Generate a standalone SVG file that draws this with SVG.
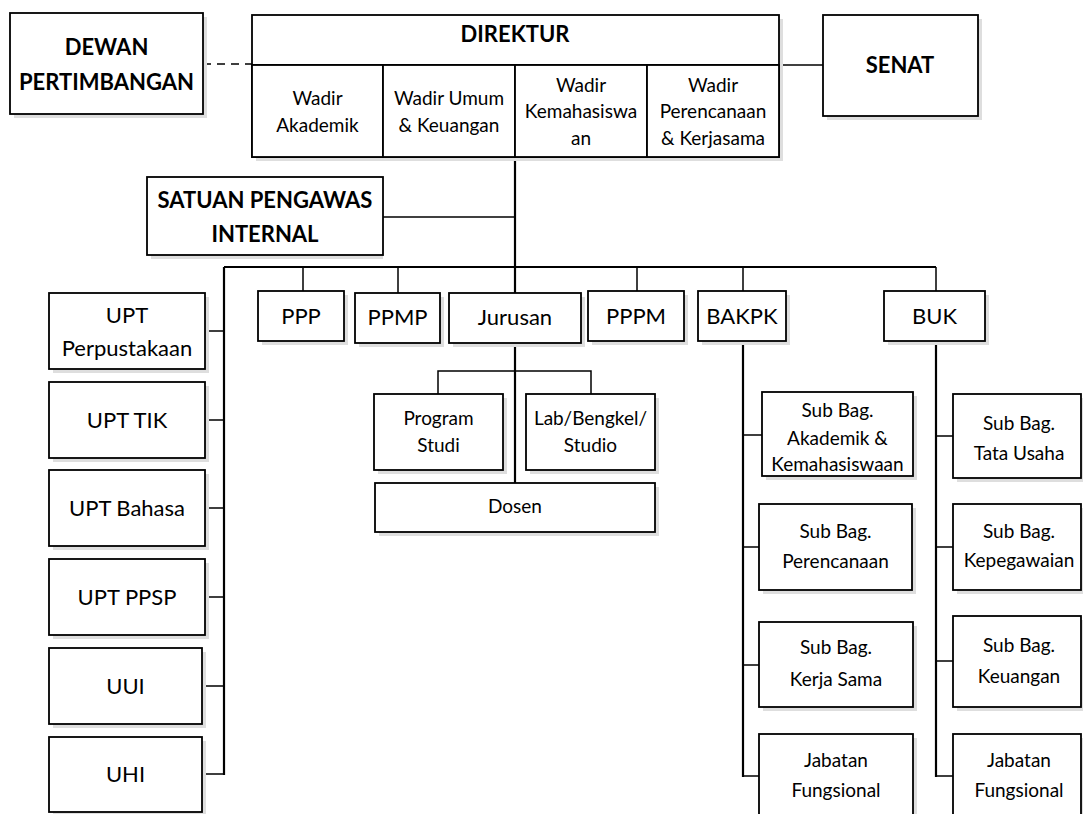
<svg xmlns="http://www.w3.org/2000/svg" width="1083" height="814" viewBox="0 0 1083 814">
<defs>
<style>
.box{fill:#fff;stroke:#000;stroke-width:1.8}
.sh{fill:#dedede;stroke:none}
.t{font-family:Lato,"Liberation Sans",sans-serif;font-size:19px;fill:#000;text-anchor:middle}
.tl{font-family:Lato,"Liberation Sans",sans-serif;font-size:22px;fill:#000;text-anchor:middle}
.tb{font-family:Lato,"Liberation Sans",sans-serif;font-size:22px;font-weight:bold;fill:#000;text-anchor:middle}
.main{fill:none;stroke:#000;stroke-width:2.2}
.thin{fill:none;stroke:#000;stroke-width:1.5}
.dash{fill:none;stroke:#000;stroke-width:1.5;stroke-dasharray:8 6}
</style>
</defs>
<rect width="1083" height="814" fill="#fff"/>

<g id="connectors">
<path class="dash" d="M203,64 H252"/>
<path class="thin" d="M779,65 H823"/>
<path class="thin" d="M383,217 H515"/>
<path class="main" d="M515,157 V293"/>
<path class="main" d="M224,267 H936"/>
<path class="main" d="M224,267 V775"/>
<path class="thin" d="M205,331 H224 M205,420 H224 M205,508 H224 M205,597 H224 M202,686 H224 M202,774 H224"/>
<path class="thin" d="M303,267 V291 M398,267 V293 M637,267 V291 M743,267 V291 M936,267 V291"/>
<path class="main" d="M743,341 V777"/>
<path class="thin" d="M743,435 H762 M743,547 H759 M743,665 H759 M743,776 H759"/>
<path class="main" d="M936,341 V777"/>
<path class="thin" d="M936,436 H953 M936,547 H953 M936,661 H953 M936,776 H953"/>
<path class="main" d="M515,343 V483"/>
<path class="thin" d="M438,394 V371 H591 V394"/>
</g>

<g id="dewan">
<rect class="sh" x="14" y="17" width="193" height="101"/>
<rect class="box" x="10" y="13" width="193" height="101"/>
<text class="tb" x="106.5" y="55">DEWAN</text>
<text class="tb" x="106.5" y="90">PERTIMBANGAN</text>
</g>

<g id="direktur">
<rect class="sh" x="256" y="19" width="527" height="142"/>
<rect class="box" x="252" y="15" width="527" height="142"/>
<line x1="252" y1="65" x2="779" y2="65" stroke="#000" stroke-width="1.8"/>
<text class="tb" x="515" y="42">DIREKTUR</text>
</g>

<g id="wadir-akademik">
<rect class="box" x="252" y="65" width="131" height="92"/>
<text class="t" x="317.5" y="105">Wadir</text>
<text class="t" x="317.5" y="132">Akademik</text>
</g>
<g id="wadir-umum">
<rect class="box" x="383" y="65" width="132" height="92"/>
<text class="t" x="449" y="105">Wadir Umum</text>
<text class="t" x="449" y="132">&amp; Keuangan</text>
</g>
<g id="wadir-kemahasiswaan">
<rect class="box" x="515" y="65" width="132" height="92"/>
<text class="t" x="581" y="92">Wadir</text>
<text class="t" x="581" y="118">Kemahasiswa</text>
<text class="t" x="581" y="145">an</text>
</g>
<g id="wadir-perencanaan">
<rect class="box" x="647" y="65" width="132" height="92"/>
<text class="t" x="713" y="92">Wadir</text>
<text class="t" x="713" y="118">Perencanaan</text>
<text class="t" x="713" y="145">&amp; Kerjasama</text>
</g>

<g id="senat">
<rect class="sh" x="827" y="19" width="155" height="101"/>
<rect class="box" x="823" y="15" width="155" height="101"/>
<text class="tb" x="900" y="73">SENAT</text>
</g>

<g id="spi">
<rect class="sh" x="151" y="181" width="232" height="78"/>
<rect class="box" x="147" y="177" width="236" height="78"/>
<text class="tb" x="265" y="208">SATUAN PENGAWAS</text>
<text class="tb" x="265" y="242">INTERNAL</text>
</g>

<g id="ppp">
<rect class="sh" x="262" y="295" width="86" height="50"/>
<rect class="box" x="258" y="291" width="86" height="50"/>
<text class="tl" x="301" y="324">PPP</text>
</g>
<g id="ppmp">
<rect class="sh" x="359" y="297" width="85" height="50"/>
<rect class="box" x="355" y="293" width="85" height="50"/>
<text class="tl" x="397.5" y="325">PPMP</text>
</g>
<g id="jurusan">
<rect class="sh" x="453" y="297" width="132" height="50"/>
<rect class="box" x="449" y="293" width="132" height="50"/>
<text class="tl" x="515" y="325">Jurusan</text>
</g>
<g id="pppm">
<rect class="sh" x="592" y="295" width="96" height="50"/>
<rect class="box" x="588" y="291" width="96" height="50"/>
<text class="tl" x="636" y="324">PPPM</text>
</g>
<g id="bakpk">
<rect class="sh" x="702" y="295" width="88" height="50"/>
<rect class="box" x="698" y="291" width="88" height="50"/>
<text class="tl" x="742" y="324">BAKPK</text>
</g>
<g id="buk">
<rect class="sh" x="888" y="295" width="101" height="50"/>
<rect class="box" x="884" y="291" width="101" height="50"/>
<text class="tl" x="934.5" y="324">BUK</text>
</g>

<g id="upt-perpustakaan">
<rect class="sh" x="53" y="297" width="156" height="76"/>
<rect class="box" x="49" y="293" width="156" height="76"/>
<text class="tl" x="127" y="323">UPT</text>
<text class="tl" x="127" y="356">Perpustakaan</text>
</g>
<g id="upt-tik">
<rect class="sh" x="53" y="386" width="156" height="76"/>
<rect class="box" x="49" y="382" width="156" height="76"/>
<text class="tl" x="127" y="428">UPT TIK</text>
</g>
<g id="upt-bahasa">
<rect class="sh" x="53" y="474" width="156" height="76"/>
<rect class="box" x="49" y="470" width="156" height="76"/>
<text class="tl" x="127" y="516">UPT Bahasa</text>
</g>
<g id="upt-ppsp">
<rect class="sh" x="53" y="563" width="156" height="76"/>
<rect class="box" x="49" y="559" width="156" height="76"/>
<text class="tl" x="127" y="605">UPT PPSP</text>
</g>
<g id="uui">
<rect class="sh" x="53" y="652" width="153" height="76"/>
<rect class="box" x="49" y="648" width="153" height="76"/>
<text class="tl" x="125.5" y="694">UUI</text>
</g>
<g id="uhi">
<rect class="sh" x="53" y="741" width="153" height="76"/>
<rect class="box" x="49" y="737" width="153" height="75"/>
<text class="tl" x="125.5" y="782">UHI</text>
</g>

<g id="program-studi">
<rect class="sh" x="378" y="398" width="129" height="76"/>
<rect class="box" x="374" y="394" width="129" height="76"/>
<text class="t" x="438.5" y="425">Program</text>
<text class="t" x="438.5" y="452">Studi</text>
</g>
<g id="lab">
<rect class="sh" x="530" y="398" width="129" height="76"/>
<rect class="box" x="526" y="394" width="129" height="76"/>
<text class="t" x="590.5" y="425">Lab/Bengkel/</text>
<text class="t" x="590.5" y="452">Studio</text>
</g>
<g id="dosen">
<rect class="sh" x="379" y="487" width="280" height="49"/>
<rect class="box" x="375" y="483" width="280" height="49"/>
<text class="t" x="515" y="513">Dosen</text>
</g>

<g id="subbag-akademik">
<rect class="sh" x="766" y="396" width="151" height="84"/>
<rect class="box" x="762" y="392" width="151" height="84"/>
<text class="t" x="837.5" y="417">Sub Bag.</text>
<text class="t" x="837.5" y="445">Akademik &amp;</text>
<text class="t" x="837.5" y="471">Kemahasiswaan</text>
</g>
<g id="subbag-perencanaan">
<rect class="sh" x="763" y="508" width="153" height="86"/>
<rect class="box" x="759" y="504" width="153" height="86"/>
<text class="t" x="835.5" y="538">Sub Bag.</text>
<text class="t" x="835.5" y="568">Perencanaan</text>
</g>
<g id="subbag-kerjasama">
<rect class="sh" x="763" y="626" width="154" height="85"/>
<rect class="box" x="759" y="622" width="154" height="85"/>
<text class="t" x="836" y="654">Sub Bag.</text>
<text class="t" x="836" y="686">Kerja Sama</text>
</g>
<g id="jabfung-bakpk">
<rect class="sh" x="763" y="738" width="154" height="90"/>
<rect class="box" x="759" y="734" width="154" height="90"/>
<text class="t" x="836" y="767">Jabatan</text>
<text class="t" x="836" y="797">Fungsional</text>
</g>

<g id="subbag-tatausaha">
<rect class="sh" x="957" y="398" width="130" height="84"/>
<rect class="box" x="953" y="394" width="128" height="84"/>
<text class="t" x="1019" y="430">Sub Bag.</text>
<text class="t" x="1019" y="460">Tata Usaha</text>
</g>
<g id="subbag-kepegawaian">
<rect class="sh" x="957" y="508" width="130" height="86"/>
<rect class="box" x="953" y="504" width="128" height="86"/>
<text class="t" x="1019" y="538">Sub Bag.</text>
<text class="t" x="1019" y="567">Kepegawaian</text>
</g>
<g id="subbag-keuangan">
<rect class="sh" x="957" y="620" width="130" height="91"/>
<rect class="box" x="953" y="616" width="128" height="91"/>
<text class="t" x="1019" y="652">Sub Bag.</text>
<text class="t" x="1019" y="683">Keuangan</text>
</g>
<g id="jabfung-buk">
<rect class="sh" x="957" y="738" width="130" height="90"/>
<rect class="box" x="953" y="734" width="128" height="90"/>
<text class="t" x="1019" y="767">Jabatan</text>
<text class="t" x="1019" y="797">Fungsional</text>
</g>
</svg>
